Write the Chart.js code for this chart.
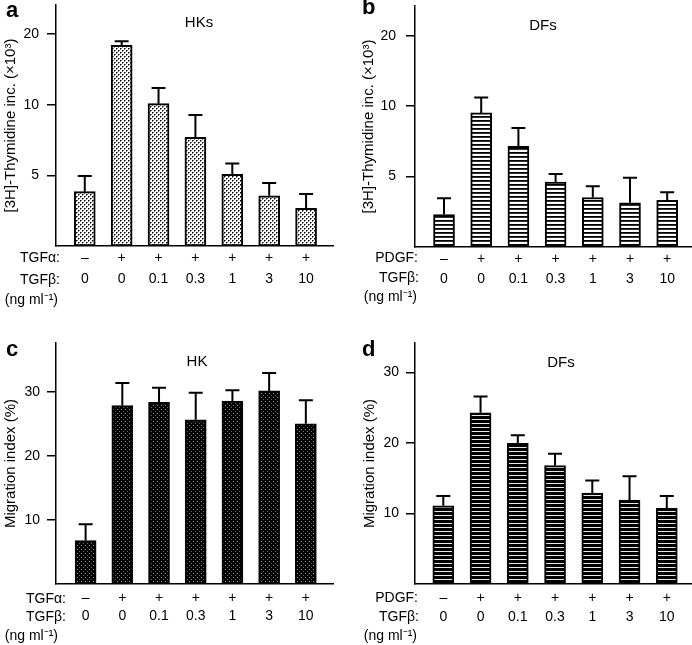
<!DOCTYPE html>
<html><head><meta charset="utf-8">
<script src="https://cdn.jsdelivr.net/npm/chart.js@4.4.0/dist/chart.umd.min.js"></script>
<style>
html,body{margin:0;padding:0;background:#fff;}
#wrap{position:relative;width:692px;height:645px;overflow:hidden;background:#fff;}
canvas{position:absolute;display:block;}
</style></head><body>
<div id="wrap">
<canvas id="ca" width="346" height="320" style="left:0;top:0;width:346px;height:320px"></canvas>
<canvas id="cb" width="346" height="320" style="left:346px;top:0;width:346px;height:320px"></canvas>
<canvas id="cc" width="346" height="325" style="left:0;top:320px;width:346px;height:325px"></canvas>
<canvas id="cd" width="346" height="325" style="left:346px;top:320px;width:346px;height:325px"></canvas>
</div>
<script>
// ---------------- data ----------------
const tgfAlphaSigns = ['–', '+', '+', '+', '+', '+', '+'];
const pdgfSigns     = ['–', '+', '+', '+', '+', '+', '+'];
const tgfBetaDoses  = ['0', '0', '0.1', '0.3', '1', '3', '10'];

const thymidineTicks = [5, 10, 20];
const migrationTicks = [10, 20, 30];

// a: HKs [3H]-thymidine incorporation (x10^3)
const hkThymidine      = [4.26, 17.9, 10.1, 7.26, 5.05, 4.09, 3.62];
const hkThymidineErr   = [0.71, 0.75, 1.67, 1.77, 0.57, 0.55, 0.54];
// b: DFs [3H]-thymidine incorporation (x10^3)
const dfThymidine      = [3.44, 9.36, 6.74, 4.74, 4.07, 3.86, 3.96];
const dfThymidineErr   = [0.60, 1.54, 1.33, 0.39, 0.48, 1.08, 0.33];
// c: HK migration index (%)
const hkMigration      = [6.8, 27.9, 28.4, 25.7, 28.6, 30.2, 25.05];
const hkMigrationErr   = [2.56, 3.55, 2.3, 4.2, 1.7, 2.8, 3.7];
// d: DF migration index (%)
const dfMigration      = [11.1, 24.3, 19.95, 16.8, 12.9, 11.9, 10.75];
const dfMigrationErr   = [1.4, 2.3, 1.15, 1.7, 1.8, 3.4, 1.75];

// ---------------- styling ----------------
const FONT = "'Liberation Sans', Arial, Helvetica, sans-serif";
Chart.defaults.font.family = FONT;
Chart.defaults.color = '#000';

function makePattern(w, h, bg, dots) {
  const c = document.createElement('canvas');
  c.width = w; c.height = h;
  const x = c.getContext('2d');
  x.fillStyle = bg; x.fillRect(0, 0, w, h);
  dots.forEach(d => { x.fillStyle = d[4]; x.fillRect(d[0], d[1], d[2], d[3]); });
  return x.createPattern(c, 'repeat');
}
const dotPattern = makePattern(4, 4, '#fff', [
  [0,0,1,1,'#000'],[2,2,1,1,'#000'],
  [1,0,1,1,'#777'],[3,2,1,1,'#777'],[0,1,1,1,'#777'],[2,3,1,1,'#777']]);
const darkDotPattern = makePattern(4, 4, '#000', [[1,1,1,1,'#9a9a9a'],[3,3,1,1,'#6a6a6a']]);
const stripeLight = makePattern(4, 4, '#fff', [[0,0,4,1,'#000'],[0,1,4,1,'#333']]);
const stripeDark = makePattern(4, 4, '#000', [[0,3,4,1,'#e6e6e6']]);

const errorBars = {
  id: 'errorBars',
  afterDatasetsDraw(chart, args, opts) {
    const {ctx} = chart;
    const xS = chart.scales.x, yS = chart.scales.y;
    const vals = chart.data.datasets[0].data;
    ctx.save();
    ctx.strokeStyle = '#000';
    ctx.lineWidth = 2;
    vals.forEach((p, i) => {
      const x = xS.getPixelForValue(p.x);
      const y0 = yS.getPixelForValue(p.y);
      const y1 = yS.getPixelForValue(p.y + opts.errors[i]);
      ctx.beginPath();
      ctx.moveTo(x, y0); ctx.lineTo(x, y1);
      ctx.moveTo(x - 7, y1); ctx.lineTo(x + 7, y1);
      ctx.stroke();
    });
    ctx.restore();
  }
};

const notes = {
  id: 'notes',
  afterDraw(chart, args, opts) {
    const {ctx} = chart;
    ctx.save();
    ctx.fillStyle = '#000';
    ctx.textBaseline = 'middle';
    opts.items.forEach(it => {
      ctx.font = it.font;
      ctx.textAlign = it.align;
      ctx.fillText(it.text, it.x, it.y);
    });
    ctx.restore();
  }
};

function zeroPad(s) { s.paddingTop = 0; s.paddingBottom = 0; s.paddingLeft = 0; s.paddingRight = 0; }

function panel(id, cfg) {
  const data = cfg.values.map((v, i) => ({x: i, y: v}));
  const yScale = {
    type: cfg.log ? 'logarithmic' : 'linear',
    min: cfg.yMin, max: cfg.yMax, bounds: 'data',
    afterBuildTicks: s => { s.ticks = cfg.yTicks.map(v => ({value: v})); },
    afterFit: s => { s.width = cfg.yWidth; zeroPad(s); },
    ticks: {color: '#000', font: {size: 14}, padding: cfg.yTickPad, callback: v => String(v)},
    grid: {display: true, drawOnChartArea: false, drawTicks: true, tickLength: 9, color: '#000', lineWidth: 1.5},
    border: {display: true, color: '#000', width: 1.5},
    title: {display: true, text: cfg.yTitle, color: '#000', font: {size: 15}, padding: {top: cfg.titlePad, bottom: 0}}
  };
  const xScale = {
    type: 'linear', min: cfg.xMin, max: cfg.xMax, offset: false, bounds: 'data',
    afterBuildTicks: s => { s.ticks = cfg.doses.map((_, i) => ({value: i})); },
    afterFit: s => { s.height = cfg.xHeight; zeroPad(s); },
    ticks: {color: '#000', font: {size: 14, lineHeight: cfg.lineH}, padding: cfg.xPad, maxRotation: 0, autoSkip: false,
            callback: v => [cfg.signs[v], cfg.doses[v]]},
    grid: {display: false, drawTicks: false, offset: false},
    border: {display: true, color: '#000', width: 1.5}
  };
  return new Chart(document.getElementById(id), {
    type: 'bar',
    data: {datasets: [{data, backgroundColor: cfg.fill, borderColor: '#000', borderWidth: 2, borderSkipped: false, barThickness: 21}]},
    options: {
      responsive: false, animation: false,
      layout: {padding: {left: 0, top: cfg.padTop, right: cfg.padRight, bottom: 0}},
      scales: {x: xScale, y: yScale},
      plugins: {legend: {display: false}, tooltip: {enabled: false},
        errorBars: {errors: cfg.errors},
        notes: {items: cfg.notes}}
    },
    plugins: [errorBars, notes]
  });
}

const bold = "bold 22px " + FONT;
const lab = "14px " + FONT;
const ttl = "15px " + FONT;

panel('ca', {
  values: hkThymidine, errors: hkThymidineErr, signs: tgfAlphaSigns, doses: tgfBetaDoses,
  log: true, yMin: 2.5, yMax: 26.6, yTicks: thymidineTicks, yWidth: 56, titlePad: 2, yTickPad: 8,
  yTitle: '[3H]-Thymidine inc. (×10³)', xMin: -0.78, xMax: 6.73, xHeight: 74, lineH: 1.55, xPad: 1,
  padTop: 5, padRight: 13, fill: dotPattern,
  notes: [
    {text: 'a', x: 6, y: 11, font: bold, align: 'left'},
    {text: 'HKs', x: 199, y: 23, font: ttl, align: 'center'},
    {text: 'TGFα:', x: 60, y: 258, font: lab, align: 'right'},
    {text: 'TGFβ:', x: 60, y: 280, font: lab, align: 'right'},
    {text: '(ng ml⁻¹)', x: 58, y: 300, font: lab, align: 'right'}
  ]
});
panel('cb', {
  values: dfThymidine, errors: dfThymidineErr, signs: pdgfSigns, doses: tgfBetaDoses,
  log: true, yMin: 2.5, yMax: 26.8, yTicks: thymidineTicks, yWidth: 69, titlePad: 14, yTickPad: 10,
  yTitle: '[3H]-Thymidine inc. (×10³)', xMin: -0.78, xMax: 6.64, xHeight: 73, lineH: 1.45, xPad: 1.5,
  padTop: 6, padRight: 1, fill: stripeLight,
  notes: [
    {text: 'b', x: 16, y: 8, font: bold, align: 'left'},
    {text: 'DFs', x: 197, y: 26, font: ttl, align: 'center'},
    {text: 'PDGF:', x: 72, y: 258, font: lab, align: 'right'},
    {text: 'TGFβ:', x: 73, y: 278, font: lab, align: 'right'},
    {text: '(ng ml⁻¹)', x: 71, y: 297, font: lab, align: 'right'}
  ]
});
panel('cc', {
  values: hkMigration, errors: hkMigrationErr, signs: tgfAlphaSigns, doses: tgfBetaDoses,
  log: false, yMin: 0, yMax: 37.7, yTicks: migrationTicks, yWidth: 56, titlePad: 2, yTickPad: 7,
  yTitle: 'Migration index (%)', xMin: -0.807, xMax: 6.74, xHeight: 61, lineH: 1.3, xPad: 5,
  padTop: 23, padRight: 13, fill: darkDotPattern,
  notes: [
    {text: 'c', x: 6, y: 30, font: bold, align: 'left'},
    {text: 'HK', x: 197, y: 42, font: ttl, align: 'center'},
    {text: 'TGFα:', x: 66, y: 279, font: lab, align: 'right'},
    {text: 'TGFβ:', x: 66, y: 297, font: lab, align: 'right'},
    {text: '(ng ml⁻¹)', x: 58, y: 316, font: lab, align: 'right'}
  ]
});
panel('cd', {
  values: dfMigration, errors: dfMigrationErr, signs: pdgfSigns, doses: tgfBetaDoses,
  log: false, yMin: 0, yMax: 34.2, yTicks: migrationTicks, yWidth: 69, titlePad: 15, yTickPad: 7,
  yTitle: 'Migration index (%)', xMin: -0.76, xMax: 6.65, xHeight: 61, lineH: 1.4, xPad: 4,
  padTop: 23, padRight: 1, fill: stripeDark,
  notes: [
    {text: 'd', x: 16, y: 30, font: bold, align: 'left'},
    {text: 'DFs', x: 215, y: 43, font: ttl, align: 'center'},
    {text: 'PDGF:', x: 72, y: 278, font: lab, align: 'right'},
    {text: 'TGFβ:', x: 73, y: 297, font: lab, align: 'right'},
    {text: '(ng ml⁻¹)', x: 71, y: 316, font: lab, align: 'right'}
  ]
});
</script>
</body></html>
